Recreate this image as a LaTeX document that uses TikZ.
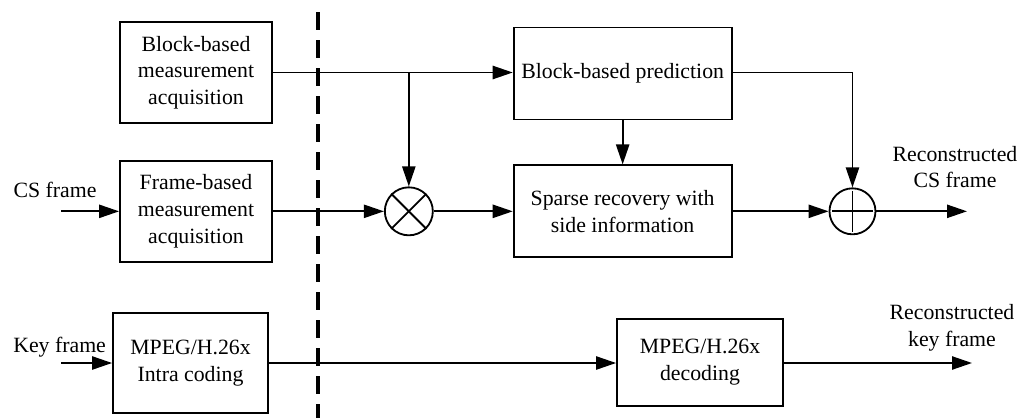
\documentclass[tikz,border=0pt]{standalone}
\usepackage{fontspec}
\setmainfont{Liberation Serif}
\usetikzlibrary{positioning,arrows.meta}

\begin{document}
\begin{tikzpicture}[
				font=\fontsize{15.5}{19}\selectfont,
				block/.style={rectangle, draw=black, line width=1.3pt, align=center, inner sep=0pt},
				junction/.style={circle, draw=black, line width=1.3pt, inner sep=0pt},
				label/.style={rectangle, align=center, inner sep=0pt},
				flow/.style={line width=1.3pt, -{Triangle[length=5mm, width=3.3mm]}}
			]
			\useasboundingbox (0,0) rectangle (25.65,-10.45);
			\node[block, minimum width=3.8cm, minimum height=2.525cm] (blockmeas) at (4.9,-1.8125) {Block-based\\measurement\\acquisition};
			\node[block, minimum width=3.8cm, minimum height=2.525cm] (framemeas) [below=9mm of blockmeas] {Frame-based\\measurement\\acquisition};
			\node[junction, minimum size=1.2cm] (mult) [right=27.75mm of framemeas] {};
			\node[block, minimum width=5.45cm, minimum height=2.3cm] (sparse) [right=19.75mm of mult] {Sparse recovery with\\side information};
			\node[block, minimum width=5.45cm, minimum height=2.3cm] (predict) [above=11mm of sparse] {Block-based prediction};
			\node[junction, minimum size=1.15cm] (adder) [right=24mm of sparse] {};
			\node[block, minimum width=3.875cm, minimum height=2.5cm] (intra) at (4.7625,-9.075) {MPEG/H.26x\\Intra coding};
			\node[block, minimum width=4.15cm, minimum height=2.175cm] (decode) at (17.5,-9.06) {MPEG/H.26x\\decoding};
			\node[label] (cslabel) at (1.375,-4.75) {CS frame};
			\node[label] (keylabel) at (1.49,-8.675) {Key frame};
			\node[label] (csoutlabel) at (23.875,-4.175) {Reconstructed\\CS frame};
			\node[label] (keyoutlabel) at (23.8,-8.2) {Reconstructed\\key frame};
			\coordinate (csin) at (1.525,-5.225);
			\coordinate (keyin) at (1.525,-9.1);
			\coordinate (csout) at (24.175,-5.2);
			\coordinate (keyout) at (24.3,-9.1);
			\coordinate (dashtop) at (7.95,-0.3);
			\coordinate (dashbottom) at (7.95,-10.45);
			% symbols inside the circles
			\draw[line width=1.3pt] (mult.north east) -- (mult.south west);
			\draw[line width=1.3pt] (mult.north west) -- (mult.south east);
			\draw[line width=1.3pt, shorten <=2.5pt, shorten >=2.5pt] (adder.north) -- (adder.south);
			\draw[line width=1.3pt, shorten <=2.5pt, shorten >=2.5pt] (adder.west) -- (adder.east);
			\draw[line width=2.2pt, dash pattern=on 4.5mm off 2.5mm] (dashtop) -- (dashbottom);
			\begin{scope}[flow]
			\draw (csin |- framemeas.west) -- (framemeas.west);
			\draw (keyin |- intra.west) -- (intra.west);
			\draw (blockmeas.east) -- (predict.west |- blockmeas.east);
			\draw (blockmeas.east -| mult.north) -- (mult.north);
			\draw (framemeas.east) -- (mult.west);
			\draw (mult.east) -- (sparse.west);
			\draw (predict.south) -- (sparse.north);
			\draw (predict.east |- blockmeas.east) -| (adder.north);
			\draw (sparse.east) -- (adder.west);
			\draw (adder.east) -- (adder.east -| csout);
			\draw (intra.east) -- (decode.west |- intra.east);
			\draw (decode.east |- intra.east) -- (keyout |- intra.east);
			\end{scope}
			\end{tikzpicture}
\end{document}
